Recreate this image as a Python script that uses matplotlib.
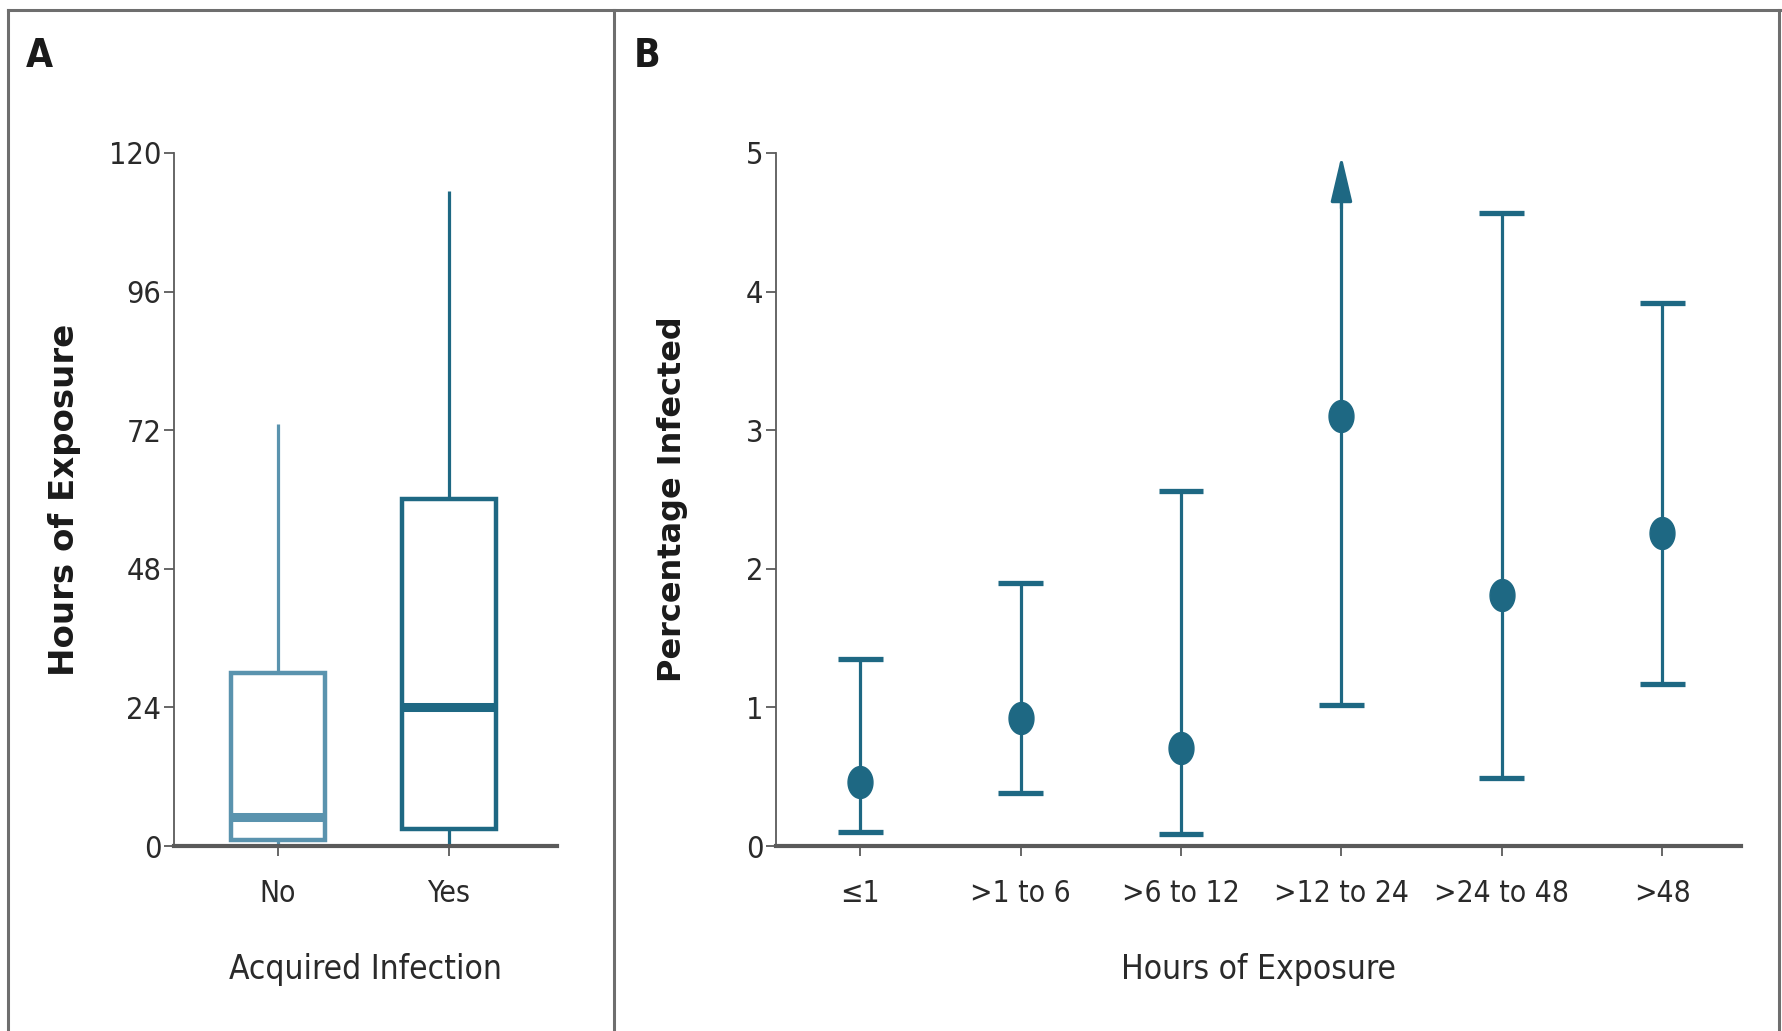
import numpy as np
import matplotlib
matplotlib.use("Agg")
import matplotlib.pyplot as plt
from matplotlib import font_manager as fm
from matplotlib.path import Path
from matplotlib.lines import Line2D

# ---------------- data ----------------
# Panel A: box plot summary (hours of exposure)
groups = ["No", "Yes"]
whisk_low = [0, 0]
q1 = [1, 3]
medians = [5, 24]
q3 = [30, 60]
whisk_high = [73, 113.5]
a_yticks = [0, 24, 48, 72, 96, 120]

# Panel B: percentage infected with 95% CI
categories = ["\u22641", ">1 to 6", ">6 to 12", ">12 to 24", ">24 to 48", ">48"]
pct = [0.46, 0.92, 0.71, 3.10, 1.81, 2.26]
ci_low = [0.10, 0.38, 0.09, 1.02, 0.49, 1.17]
ci_high = [1.35, 1.90, 2.56, None, 4.57, 3.92]   # None: upper limit beyond axis
b_yticks = [0, 1, 2, 3, 4, 5]

# ---------------- style ----------------
names = {f.name for f in fm.fontManager.ttflist}
if "Liberation Sans Narrow" in names:
    COND = dict(family="Liberation Sans Narrow")
else:
    COND = dict(family="DejaVu Sans", stretch="condensed")
BOLD = dict(family="DejaVu Sans", weight="bold")

DARK = "#1e6883"
LIGHT = "#5a93ae"
AXC = "#5a5a5a"
TXT = "#2a2a2a"

fig = plt.figure(figsize=(17.82, 10.31), dpi=100)

# outer frame and divider
def fline(x, y, **kw):
    fig.add_artist(Line2D(x, y, transform=fig.transFigure, color="#6e6e6e", lw=2.2, **kw))

fline([8/1782, 1.0], [1-10/1031, 1-10/1031])
fline([8/1782, 8/1782], [0, 1-10/1031])
fline([614/1782, 614/1782], [0, 1-10/1031])
fline([1779/1782, 1779/1782], [0, 1-10/1031])

fig.text(26/1782, 1-56/1031, "A", fontsize=28, color="#1a1a1a", va="center", ha="left",
         weight="bold", **COND)
fig.text(634/1782, 1-56/1031, "B", fontsize=28, color="#1a1a1a", va="center", ha="left",
         weight="bold", **COND)

def style_axes(ax):
    for s in ("top", "right"):
        ax.spines[s].set_visible(False)
    ax.spines["left"].set_color(AXC)
    ax.spines["left"].set_linewidth(1.3)
    ax.spines["bottom"].set_color(AXC)
    ax.spines["bottom"].set_linewidth(3.0)
    ax.tick_params(axis="both", direction="out", color=AXC, width=1.3, length=7,
                   labelcolor=TXT)
    ax.tick_params(axis="y", labelsize=22, pad=2)
    ax.tick_params(axis="x", labelsize=21.5, pad=17)
    for lab in ax.get_xticklabels() + ax.get_yticklabels():
        lab.set(**COND)
    ax.set_facecolor("none")

# ---------------- Panel A ----------------
axA = fig.add_axes([174/1782, 1-846/1031, (557-174)/1782, (846-153)/1031])
axA.set_xlim(-0.608, 1.632)
axA.set_ylim(0, 120)
bw = 0.55
colsA = [LIGHT, DARK]
for i in range(len(groups)):
    c = colsA[i]
    # whiskers
    axA.plot([i, i], [q3[i], whisk_high[i]], color=c, lw=2.3, solid_capstyle="butt", zorder=2)
    axA.plot([i, i], [whisk_low[i], q1[i]], color=c, lw=2.3, solid_capstyle="butt", zorder=2)
    # box
    axA.add_patch(plt.Rectangle((i - bw/2, q1[i]), bw, q3[i] - q1[i], fill=False,
                                edgecolor=c, lw=3.2, zorder=3))
    # median
    axA.plot([i - bw/2, i + bw/2], [medians[i], medians[i]], color=c, lw=6.5, solid_capstyle="butt", zorder=4)
axA.set_xticks(range(len(groups)))
axA.set_xticklabels(groups)
axA.set_yticks(a_yticks)
axA.spines["left"].set_bounds(0, 120)
style_axes(axA)
axA.set_xlabel("Acquired Infection", fontsize=24, color=TXT, labelpad=32, **COND)
axA.set_ylabel("Hours of Exposure", fontsize=24.5, color="#1a1a1a", labelpad=20, **BOLD)

# ---------------- Panel B ----------------
axB = fig.add_axes([776/1782, 1-846/1031, (1741-776)/1782, (846-153)/1031])
axB.set_xlim(-0.524, 5.49)
axB.set_ylim(0, 5)
capw = 0.14
t = np.linspace(0, 2*np.pi, 60)
ell = Path(np.column_stack([0.78*np.cos(t), np.sin(t)]))
xs = np.arange(len(categories))
for i in xs:
    hi = ci_high[i]
    if hi is None:
        axB.plot([i, i], [ci_low[i], 4.75], color=DARK, lw=2.3, solid_capstyle="butt", zorder=2)
        axB.annotate("", xy=(i, 4.98), xytext=(i, 4.6),
                     arrowprops=dict(arrowstyle="-|>,head_length=1.4,head_width=0.33",
                                     mutation_scale=20, color=DARK, lw=2.3,
                                     shrinkA=0, shrinkB=0), zorder=3)
    else:
        axB.plot([i, i], [ci_low[i], hi], color=DARK, lw=2.3, solid_capstyle="butt", zorder=2)
        axB.plot([i - capw, i + capw], [hi, hi], color=DARK, lw=3.8, solid_capstyle="butt", zorder=2)
    axB.plot([i - capw, i + capw], [ci_low[i], ci_low[i]], color=DARK, lw=3.8, solid_capstyle="butt", zorder=2)
axB.plot(xs, pct, linestyle="none", marker=ell, markersize=23, color=DARK, zorder=4)
axB.set_xticks(xs)
axB.set_xticklabels(categories)
axB.set_yticks(b_yticks)
axB.spines["left"].set_bounds(0, 5)
style_axes(axB)
axB.set_xlabel("Hours of Exposure", fontsize=24, color=TXT, labelpad=32, **COND)
axB.set_ylabel("Percentage Infected", fontsize=23, color="#1a1a1a", labelpad=42, **BOLD)

fig.savefig("out.png", dpi=100, facecolor="white")
